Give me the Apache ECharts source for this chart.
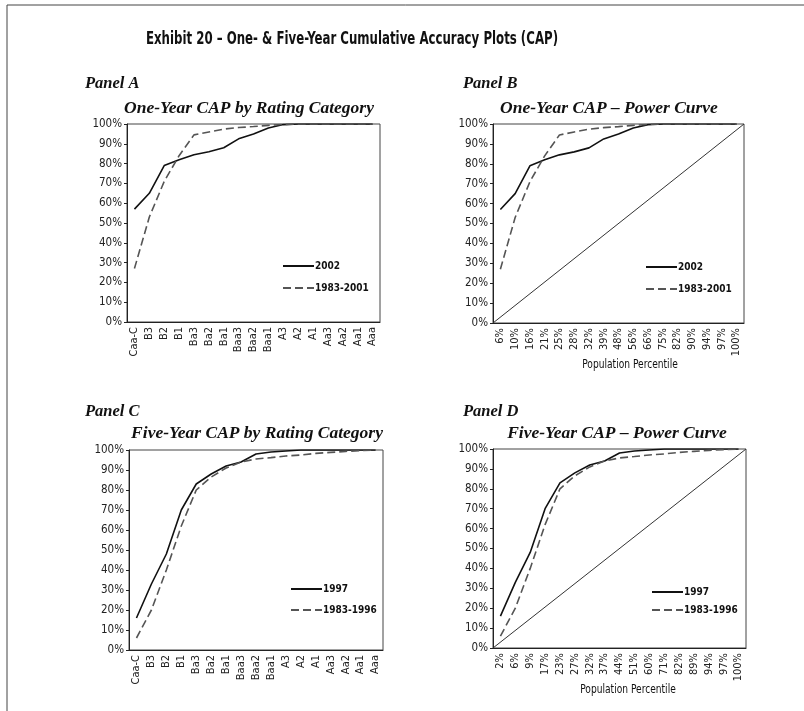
<!DOCTYPE html>
<html>
<head>
<meta charset="utf-8">
<style>
html,body{margin:0;padding:0;background:#fff;}
#chart{width:804px;height:711px;}
</style>
<script src="https://cdn.jsdelivr.net/npm/echarts@6/dist/echarts.min.js"></script>
</head>
<body>
<div id="chart"></div>
<script>
// ---- Data ----
var ratingCats = ['Caa-C','B3','B2','B1','Ba3','Ba2','Ba1','Baa3','Baa2','Baa1','A3','A2','A1','Aa3','Aa2','Aa1','Aaa'];
var oneYearPct = ['6%','10%','16%','21%','25%','28%','32%','39%','48%','56%','66%','75%','82%','90%','94%','97%','100%'];
var fiveYearPct = ['2%','6%','9%','17%','23%','27%','32%','37%','44%','51%','60%','71%','82%','89%','94%','97%','100%'];
var cap2002 = [57, 65, 79, 82, 84.5, 86, 88, 92.5, 95, 98, 99.7, 100, 100, 100, 100, 100, 100];
var cap1983_2001 = [27, 53, 71, 84, 94.5, 96, 97.4, 98.2, 98.7, 99.3, 99.8, 100, 100, 100, 100, 100, 100];
var cap1997 = [16, 33, 48, 70, 83, 88, 92, 94, 98, 99, 99.5, 100, 100, 100, 100, 100, 100];
var cap1983_1996 = [6, 20, 40, 62, 80, 86.5, 91, 94, 95.5, 96.2, 97, 97.5, 98.3, 98.8, 99.3, 99.7, 100];
var randomModel = [[0, 0], [100, 100]];
var yTicks = {min: 0, max: 100, interval: 10};

// ---- Styles ----
var narrow = '"Liberation Sans Narrow","DejaVu Sans Condensed","Arial Narrow",sans-serif';
var serif = '"Liberation Serif","Times New Roman",serif';
var grids = [
  {left: 127, top: 124, width: 253, height: 198},
  {left: 493, top: 124, width: 251, height: 199},
  {left: 129, top: 450, width: 254, height: 200},
  {left: 493, top: 449, width: 253, height: 199}
];
grids.forEach(function (g) { g.show = true; g.borderColor = '#444'; g.borderWidth = 1; g.backgroundColor = 'transparent'; });

function catAxis(gi, cats) {
  return {
    type: 'category', gridIndex: gi, data: cats, boundaryGap: true,
    axisLine: {lineStyle: {color: '#222', width: 1}},
    axisTick: {show: false},
    axisLabel: {rotate: 90, interval: 0, fontSize: 11, fontFamily: narrow, color: '#222', margin: 5},
    splitLine: {show: false}
  };
}
function valAxis(gi) {
  return {
    type: 'value', gridIndex: gi, min: yTicks.min, max: yTicks.max, interval: yTicks.interval,
    axisLine: {show: true, lineStyle: {color: '#222', width: 1}},
    axisTick: {show: true, length: 3, lineStyle: {color: '#222'}},
    axisLabel: {formatter: '{value}%', fontSize: 11.5, fontFamily: narrow, color: '#222', margin: 5},
    splitLine: {show: false}
  };
}
function diagAxis(gi) {
  return {type: 'value', gridIndex: gi, min: 0, max: 100, show: false, splitLine: {show: false}};
}

var solid = {color: '#111', width: 1.6, type: 'solid'};
var dashed = {color: '#555', width: 1.6, type: [8, 4]};
function lineSeries(name, xi, yi, data, style) {
  return {name: name, type: 'line', xAxisIndex: xi, yAxisIndex: yi, data: data,
    symbol: 'none', lineStyle: style, itemStyle: {color: style.color}, silent: true, animation: false};
}

var xAxes = [catAxis(0, ratingCats), catAxis(1, oneYearPct), catAxis(2, ratingCats), catAxis(3, fiveYearPct), diagAxis(1), diagAxis(3)];
var yAxes = [valAxis(0), valAxis(1), valAxis(2), valAxis(3)];

var series = [
  lineSeries('2002', 0, 0, cap2002, solid),
  lineSeries('1983-2001', 0, 0, cap1983_2001, dashed),
  lineSeries('2002', 1, 1, cap2002, solid),
  lineSeries('1983-2001', 1, 1, cap1983_2001, dashed),
  {type: 'line', xAxisIndex: 4, yAxisIndex: 1, data: randomModel, symbol: 'none', lineStyle: {color: '#333', width: 1}, silent: true, animation: false},
  lineSeries('1997', 2, 2, cap1997, solid),
  lineSeries('1983-1996', 2, 2, cap1983_1996, dashed),
  lineSeries('1997', 3, 3, cap1997, solid),
  lineSeries('1983-1996', 3, 3, cap1983_1996, dashed),
  {type: 'line', xAxisIndex: 5, yAxisIndex: 3, data: randomModel, symbol: 'none', lineStyle: {color: '#333', width: 1}, silent: true, animation: false}
];

function legend(names, left, top, gap) {
  return {data: names, left: left, top: top, orient: 'vertical', padding: 0, itemGap: gap,
    itemWidth: 31, itemHeight: 10, selectedMode: false,
    itemStyle: {opacity: 0},
    textStyle: {fontSize: 10, fontWeight: 'bold', fontFamily: narrow, color: '#111', padding: [0, 0, 0, -4]}};
}

function txt(x, y, s, font, align, sx) {
  return {type: 'text', x: x, y: y, scaleX: sx || 1, style: {text: s, font: font, fill: '#111', textAlign: align || 'left', textVerticalAlign: 'middle'}};
}
var panelFont = 'italic bold 16.5px ' + serif;
var subFont = 'italic bold 17.5px ' + serif;

var graphics = [
  {type: 'line', shape: {x1: 7, y1: 5, x2: 804, y2: 5}, style: {stroke: '#444', lineWidth: 1}},
  {type: 'line', shape: {x1: 7, y1: 5, x2: 7, y2: 711}, style: {stroke: '#444', lineWidth: 1}},
  txt(352, 40, 'Exhibit 20 – One- & Five-Year Cumulative Accuracy Plots (CAP)', 'bold 17px ' + narrow, 'center', 0.77),
  txt(85, 84, 'Panel A', panelFont),
  txt(249, 108, 'One-Year CAP by Rating Category', subFont, 'center'),
  txt(463, 84, 'Panel B', panelFont),
  txt(609, 108, 'One-Year CAP – Power Curve', subFont, 'center'),
  txt(85, 412, 'Panel C', panelFont),
  txt(257, 433, 'Five-Year CAP by Rating Category', subFont, 'center'),
  txt(463, 412, 'Panel D', panelFont),
  txt(617, 433, 'Five-Year CAP – Power Curve', subFont, 'center'),
  txt(630, 365, 'Population Percentile', '11.5px ' + narrow, 'center', 0.88),
  txt(628, 690, 'Population Percentile', '11.5px ' + narrow, 'center', 0.88)
];

var chart = echarts.init(document.getElementById('chart'), null, {renderer: 'canvas'});
chart.setOption({
  backgroundColor: '#fff',
  animation: false,
  grid: grids,
  xAxis: xAxes,
  yAxis: yAxes,
  series: series,
  legend: [
    legend(['2002', '1983-2001'], 282, 261, 12),
    legend(['2002', '1983-2001'], 645, 262, 12),
    legend(['1997', '1983-1996'], 290, 584, 11),
    legend(['1997', '1983-1996'], 651, 587, 8)
  ],
  graphic: graphics
});
</script>
</body>
</html>
